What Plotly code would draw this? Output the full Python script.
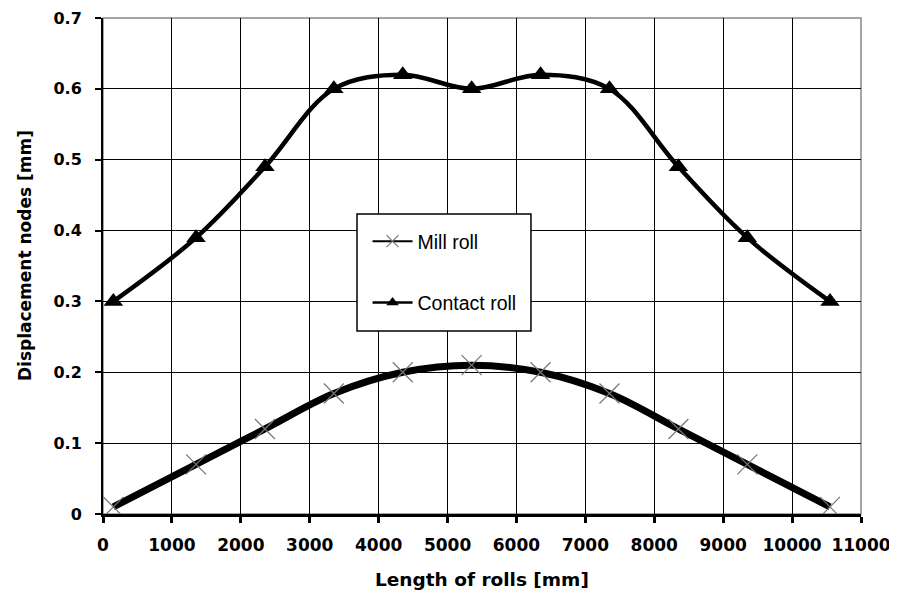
import plotly.graph_objects as go

x_positions = [150, 1350, 2350, 3350, 4350, 5350, 6350, 7350, 8350, 9350, 10550]
mill_roll = [0.01, 0.07, 0.12, 0.17, 0.20, 0.21, 0.20, 0.17, 0.12, 0.07, 0.01]
contact_roll = [0.30, 0.39, 0.49, 0.60, 0.62, 0.60, 0.62, 0.60, 0.49, 0.39, 0.30]
x_ticks = list(range(0, 11001, 1000))
y_ticks = [0, 0.1, 0.2, 0.3, 0.4, 0.5, 0.6, 0.7]
y_tick_labels = ["0", "0.1", "0.2", "0.3", "0.4", "0.5", "0.6", "0.7"]

BOLD = "DejaVu Sans, Arial, sans-serif"
REG = "Liberation Sans, Arial, sans-serif"

fig = go.Figure()
fig.add_trace(go.Scatter(
    x=x_positions, y=mill_roll, name="Mill roll", mode="lines+markers",
    showlegend=False,
    line=dict(color="black", width=7, shape="spline", smoothing=1.0),
    marker=dict(symbol="x-thin", size=20, color="#777777",
                line=dict(color="#777777", width=1.2)),
))
fig.add_trace(go.Scatter(
    x=x_positions, y=contact_roll, name="Contact roll", mode="lines+markers",
    showlegend=False,
    line=dict(color="black", width=4.5, shape="spline", smoothing=1.0),
    marker=dict(symbol="triangle-up", size=17, color="black"),
))
# legend entries (legend-only styling, thinner lines as in the original)
fig.add_trace(go.Scatter(
    x=[None], y=[None], name="Mill roll", mode="lines+markers", legendgroup="a",
    line=dict(color="black", width=2),
    marker=dict(symbol="x-thin", size=12, color="#777777",
                line=dict(color="#777777", width=1.2)),
))
fig.add_trace(go.Scatter(
    x=[None], y=[None], name="Contact roll", mode="lines+markers", legendgroup="b",
    line=dict(color="black", width=2.5),
    marker=dict(symbol="triangle-up", size=11, color="black"),
))

fig.update_layout(
    width=897, height=599,
    margin=dict(l=95, r=44, t=10, b=93),
    plot_bgcolor="white", paper_bgcolor="white",
    font=dict(family=REG, color="black"),
    legend=dict(
        x=0.349, y=0.5887, xanchor="left", yanchor="top",
        bgcolor="rgba(0,0,0,0)", borderwidth=0,
        font=dict(size=19.5, family=REG),
        tracegroupgap=33, traceorder="grouped",
        itemwidth=40,
    ),
    showlegend=True,
    shapes=[
        dict(type="rect", xref="paper", yref="paper", x0=0, y0=0, x1=1, y1=1,
             line=dict(color="#888888", width=1.5), layer="below"),
        dict(type="rect", xref="paper", yref="paper", x0=0.3351, x1=0.5646,
             y0=0.369, y1=0.6048, fillcolor="white",
             line=dict(color="black", width=1.5), layer="above"),
    ],
    annotations=[
        dict(text="<b>Length of rolls [mm]</b>", xref="paper", yref="paper",
             x=0.5, y=-0.133, xanchor="center", yanchor="middle", showarrow=False,
             font=dict(size=18.5, family=BOLD)),
        dict(text="<b>Displacement nodes [mm]</b>", xref="paper", yref="paper",
             x=-0.103, y=0.522, xanchor="center", yanchor="middle", showarrow=False,
             textangle=-90, font=dict(size=17, family=BOLD)),
    ],
)
fig.update_xaxes(
    range=[0, 11000], tickvals=x_ticks, ticktext=[f"<b>{v}</b>" for v in x_ticks],
    showgrid=True, gridcolor="black", gridwidth=1,
    showline=True, linecolor="black", linewidth=3, mirror=False,
    ticks="outside", ticklen=6, tickwidth=3, tickcolor="black",
    tickfont=dict(size=17, family=BOLD), ticklabelstandoff=8,
    zeroline=False, automargin=False,
)
fig.update_yaxes(
    range=[0, 0.7], tickvals=y_ticks, ticktext=[f"<b>{t}</b>" for t in y_tick_labels],
    showgrid=True, gridcolor="black", gridwidth=1,
    showline=True, linecolor="black", linewidth=2,
    ticks="outside", ticklen=6, tickwidth=2, tickcolor="black",
    tickfont=dict(size=16, family=BOLD), ticklabelstandoff=10,
    zeroline=False, automargin=False,
)

fig.write_html("out.html")
